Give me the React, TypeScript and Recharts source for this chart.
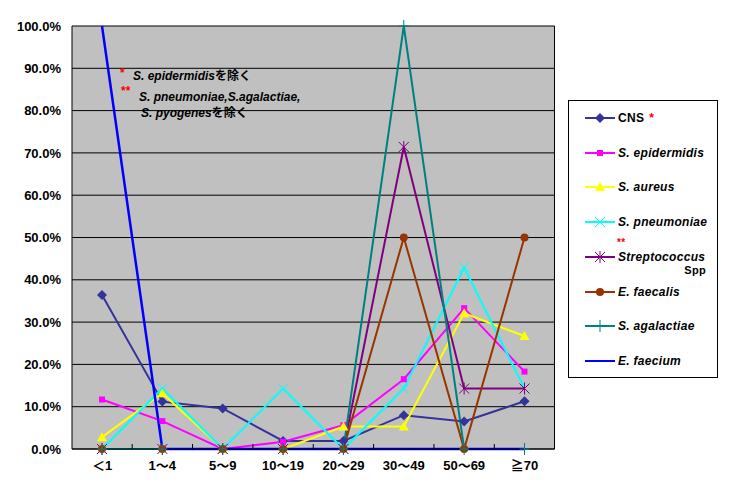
import React from "react"
import { CartesianGrid, Line, LineChart, XAxis, YAxis } from "recharts"

const categories = ["＜1", "1～4", "5～9", "10～19", "20～29", "30～49", "50～69", "≧70"]

const cnsValues = [36.4, 11.2, 9.6, 1.9, 1.9, 8.0, 6.5, 11.3]
const epidermidisValues = [11.7, 6.6, 0, 1.7, 5.6, 16.5, 33.3, 18.3]
const aureusValues = [2.8, 13.2, 0, 0, 5.3, 5.3, 32.1, 26.7]
const pneumoniaeValues = [0, 14.3, 0, 14.3, 0, 14.3, 42.9, 14.3]
const streptococcusValues = [0, 0, 0, 0, 0, 71.4, 14.3, 14.3]
const faecalisValues = [0, 0, 0, 0, 0, 50, 0, 50]
const agalactiaeValues = [0, 0, 0, 0, 0, 100, 0, 0]
const faeciumValues = [100, 0, 0, 0, 0, 0, 0, 0]

const yTicks = [0, 10, 20, 30, 40, 50, 60, 70, 80, 90, 100]

const data = categories.map((name, i) => ({
  name,
  cns: cnsValues[i],
  epidermidis: epidermidisValues[i],
  aureus: aureusValues[i],
  pneumoniae: pneumoniaeValues[i],
  streptococcus: streptococcusValues[i],
  faecalis: faecalisValues[i],
  agalactiae: agalactiaeValues[i],
  faecium: faeciumValues[i],
}))

type Shape = "diamond" | "square" | "triangle" | "cross" | "star" | "circle" | "plus" | "none"

const series: { key: string; color: string; shape: Shape; width: number }[] = [
  { key: "cns", color: "#333399", shape: "diamond", width: 2 },
  { key: "epidermidis", color: "#FF00FF", shape: "square", width: 2 },
  { key: "aureus", color: "#FFFF00", shape: "triangle", width: 2 },
  { key: "pneumoniae", color: "#00FFFF", shape: "cross", width: 2 },
  { key: "streptococcus", color: "#800080", shape: "star", width: 2 },
  { key: "faecalis", color: "#993300", shape: "circle", width: 2 },
  { key: "agalactiae", color: "#008080", shape: "plus", width: 2 },
  { key: "faecium", color: "#0000FF", shape: "none", width: 2.5 },
]

const font = "'Liberation Sans', 'Noto Sans CJK JP', sans-serif"

// chart geometry
const chartW = 729
const chartH = 493
const margin = { top: 26, right: 173.5, bottom: 14, left: 12 }
const yAxisW = 60
const xPad = 30
const xTickMargin = 12
const plotW = chartW - margin.left - margin.right - yAxisW - 1
const halfStep = (plotW - 2 * xPad) / (categories.length - 1) / 2

function marker(shape: Shape, color: string, cx: number, cy: number, key?: string | number) {
  switch (shape) {
    case "diamond":
      return <polygon key={key} points={`${cx},${cy - 5} ${cx + 5},${cy} ${cx},${cy + 5} ${cx - 5},${cy}`} fill={color} />
    case "square":
      return <rect key={key} x={cx - 3} y={cy - 3} width={6} height={6} fill={color} />
    case "triangle":
      return <polygon key={key} points={`${cx},${cy - 5} ${cx + 5},${cy + 4} ${cx - 5},${cy + 4}`} fill={color} />
    case "cross":
      return (
        <g key={key} stroke={color} strokeWidth={1}>
          <line x1={cx - 5} y1={cy - 5} x2={cx + 5} y2={cy + 5} />
          <line x1={cx - 5} y1={cy + 5} x2={cx + 5} y2={cy - 5} />
        </g>
      )
    case "star":
      return (
        <g key={key} stroke={color} strokeWidth={1}>
          <line x1={cx - 5} y1={cy - 5} x2={cx + 5} y2={cy + 5} />
          <line x1={cx - 5} y1={cy + 5} x2={cx + 5} y2={cy - 5} />
          <line x1={cx} y1={cy - 6} x2={cx} y2={cy + 6} />
        </g>
      )
    case "circle":
      return <circle key={key} cx={cx} cy={cy} r={4} fill={color} />
    case "plus":
      return (
        <g key={key} stroke={color} strokeWidth={1}>
          <line x1={cx - 5} y1={cy} x2={cx + 5} y2={cy} />
          <line x1={cx} y1={cy - 6} x2={cx} y2={cy + 6} />
        </g>
      )
    default:
      return <g key={key} />
  }
}

// category label plus the small inward tick on the boundary to its right
function CategoryTick(props: any) {
  const { x, y, payload, index } = props
  const axisY = y - xTickMargin
  return (
    <g>
      <text x={x} y={y} dy="0.71em" textAnchor="middle" fill="#000" fontSize={13} fontWeight="bold" fontFamily={font}>
        {payload.value}
      </text>
      {index < categories.length - 1 && (
        <line x1={x + halfStep} x2={x + halfStep} y1={axisY} y2={axisY - 5} stroke="#000" strokeWidth={1} />
      )}
    </g>
  )
}

const legendLabels: Record<string, React.ReactNode> = {
  cns: (
    <span>
      CNS<span style={{ color: "#FF0000", marginLeft: 5 }}>*</span>
    </span>
  ),
  epidermidis: <i>S. epidermidis</i>,
  aureus: <i>S. aureus</i>,
  pneumoniae: <i>S. pneumoniae</i>,
  streptococcus: <i>Streptococcus</i>,
  faecalis: <i>E. faecalis</i>,
  agalactiae: <i>S. agalactiae</i>,
  faecium: <i>E. faecium</i>,
}

function ChartLegend() {
  return (
    <div
      style={{
        position: "absolute",
        left: 568,
        top: 100,
        width: 150,
        height: 278,
        boxSizing: "border-box",
        border: "1px solid #000",
        background: "#fff",
        fontFamily: font,
        fontWeight: "bold",
        fontSize: 12,
        letterSpacing: 0.3,
      }}
    >
      {series.map((s, i) => (
        <div
          key={s.key}
          style={{
            position: "absolute",
            left: 16,
            top: 17 + i * 34.7,
            transform: "translateY(-50%)",
            display: "flex",
            alignItems: "center",
            whiteSpace: "nowrap",
          }}
        >
          <svg width={30} height={14}>
            <line x1={0} y1={7} x2={30} y2={7} stroke={s.color} strokeWidth={2} />
            {marker(s.shape, s.color, 15, 7)}
          </svg>
          <span style={{ marginLeft: 3, lineHeight: "12px" }}>{legendLabels[s.key]}</span>
        </div>
      ))}
      <div style={{ position: "absolute", left: 48, top: 137, color: "#FF0000", fontSize: 10, lineHeight: "10px" }}>**</div>
      <div style={{ position: "absolute", right: 11, top: 164, fontSize: 11, lineHeight: "11px" }}>Spp</div>
    </div>
  )
}

function Notes() {
  const base: React.CSSProperties = {
    position: "absolute",
    fontFamily: font,
    fontWeight: "bold",
    fontSize: 12,
    lineHeight: "12px",
    whiteSpace: "nowrap",
    transform: "translateY(-50%)",
  }
  return (
    <>
      <div style={{ ...base, left: 120, top: 73, color: "#FF0000" }}>*</div>
      <div style={{ ...base, left: 133, top: 76 }}>
        <i>S. epidermidis</i>を除く
      </div>
      <div style={{ ...base, left: 121, top: 91, color: "#FF0000" }}>**</div>
      <div style={{ ...base, left: 139, top: 97 }}>
        <i>S. pneumoniae,S.agalactiae,</i>
      </div>
      <div style={{ ...base, left: 141, top: 113 }}>
        <i>S. pyogenes</i>を除く
      </div>
    </>
  )
}

export default function App() {
  return (
    <div style={{ position: "absolute", left: 0, top: 0, width: chartW, height: chartH, background: "#fff" }}>
      <LineChart width={chartW} height={chartH} data={data} margin={margin}>
        <CartesianGrid vertical={false} stroke="#000" fill="#C0C0C0" fillOpacity={1} />
        <XAxis
          dataKey="name"
          height={30}
          stroke="#000"
          padding={{ left: xPad, right: xPad }}
          tickLine={false}
          tickSize={0}
          tickMargin={xTickMargin}
          interval={0}
          tick={<CategoryTick />}
        />
        <YAxis
          domain={[0, 100]}
          ticks={yTicks}
          width={yAxisW}
          stroke="#000"
          tickLine={false}
          tickSize={0}
          tickMargin={11}
          tickFormatter={(v) => `${Number(v).toFixed(1)}%`}
          tick={{ fill: "#000", fontSize: 13, fontWeight: "bold", fontFamily: font }}
        />
        <YAxis yAxisId="right" orientation="right" domain={[0, 100]} width={1} tick={false} tickLine={false} stroke="#000" />
        {series.map((s) => (
          <Line
            key={s.key}
            dataKey={s.key}
            type="linear"
            stroke={s.color}
            strokeWidth={s.width}
            isAnimationActive={false}
            activeDot={false}
            dot={
              s.shape === "none"
                ? false
                : (p: any) => marker(s.shape, s.color, p.cx, p.cy, p.key ?? `${s.key}-${p.index}`)
            }
          />
        ))}
      </LineChart>
      <Notes />
      <ChartLegend />
    </div>
  )
}
